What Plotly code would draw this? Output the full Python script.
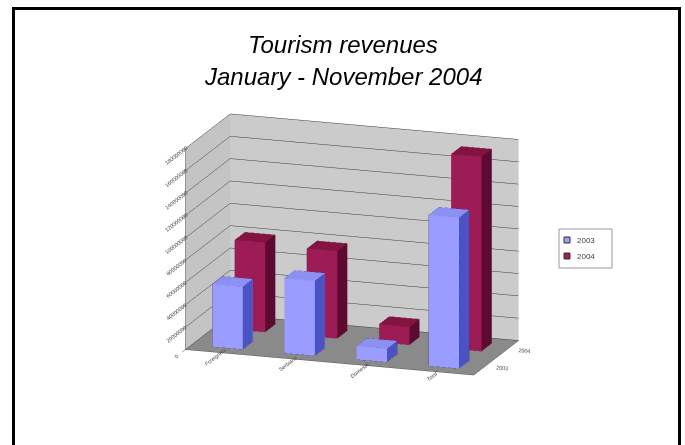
import math
import plotly.graph_objects as go

# Tourism revenues by visitor group, Jan-Nov 2003 vs 2004
categories = ["Foreigners", "Serbians", "Domestic", "Total"]
years = ["2003", "2004"]
rev_2003 = [56000000, 67000000, 12000000, 135000000]
rev_2004 = [80000000, 78000000, 16000000, 174000000]
value_ticks = list(range(0, 180000001, 20000000))

series = [
    # name, values, front, side, top
    (years[0], rev_2003, "#9a9cff", "#4a52c4", "#8c90f2"),
    (years[1], rev_2004, "#9e1c56", "#5e0a30", "#84143f"),
]

BAR_W = 0.42   # width along the category axis
BAR_D = 0.45   # depth along the series axis


def box_mesh(xc, yc, h):
    x0, x1 = xc - BAR_W / 2, xc + BAR_W / 2
    y0, y1 = yc - BAR_D / 2, yc + BAR_D / 2
    vx = [x0, x1, x1, x0, x0, x1, x1, x0]
    vy = [y0, y0, y1, y1, y0, y0, y1, y1]
    vz = [0, 0, 0, 0, h, h, h, h]
    faces = [
        ((0, 1, 5), "front"), ((0, 5, 4), "front"),
        ((1, 2, 6), "side"), ((1, 6, 5), "side"),
        ((4, 5, 6), "top"), ((4, 6, 7), "top"),
        ((3, 2, 6), "back"), ((3, 6, 7), "back"),
        ((0, 3, 7), "left"), ((0, 7, 4), "left"),
        ((0, 1, 2), "bottom"), ((0, 2, 3), "bottom"),
    ]
    return vx, vy, vz, faces


fig = go.Figure()

for si, (name, vals, c_front, c_side, c_top) in enumerate(series):
    X, Y, Z, I, J, K, FC = [], [], [], [], [], [], []
    ex, ey, ez = [], [], []
    for ci, v in enumerate(vals):
        vx, vy, vz, faces = box_mesh(ci, si, v)
        base = len(X)
        X += vx; Y += vy; Z += vz
        for (a, b, c), role in faces:
            I.append(base + a); J.append(base + b); K.append(base + c)
            FC.append({"front": c_front, "side": c_side, "top": c_top}.get(role, c_front))
        # visible outline of the box
        for path in [(0, 1, 5, 4, 0), (1, 2, 6, 5), (4, 7, 6)]:
            for p in path:
                ex.append(vx[p]); ey.append(vy[p]); ez.append(vz[p])
            ex.append(None); ey.append(None); ez.append(None)
    fig.add_trace(go.Mesh3d(
        x=X, y=Y, z=Z, i=I, j=J, k=K, facecolor=FC, flatshading=True,
        lighting=dict(ambient=1, diffuse=0, specular=0, fresnel=0, roughness=1),
        hoverinfo="skip", showlegend=False, showscale=False,
    ))
    fig.add_trace(go.Scatter3d(
        x=ex, y=ey, z=ez, mode="lines",
        line=dict(color="rgba(20,20,60,0.55)", width=1),
        hoverinfo="skip", showlegend=False,
    ))

# small legend box on the right
LEG_X0, LEG_X1, LEG_Y0, LEG_Y1 = 559, 612, 229, 268
shapes = [
    dict(type="rect", xref="paper", yref="paper",
         x0=13.5 / 685, x1=679.5 / 685, y0=-0.05, y1=1 - 8.5 / 445,
         line=dict(color="black", width=3), fillcolor="rgba(0,0,0,0)"),
    dict(type="rect", xref="paper", yref="paper",
         x0=LEG_X0 / 685, x1=LEG_X1 / 685, y0=1 - LEG_Y1 / 445, y1=1 - LEG_Y0 / 445,
         line=dict(color="#9a9a9a", width=1), fillcolor="white"),
]
annotations = []
for k, (name, _, c_front, _, _) in enumerate(series):
    yc = 240 + 16 * k
    shapes.append(dict(type="rect", xref="paper", yref="paper",
                       x0=564 / 685, x1=570 / 685,
                       y0=1 - (yc + 3) / 445, y1=1 - (yc - 3) / 445,
                       line=dict(color="#333", width=1), fillcolor=c_front))
    annotations.append(dict(text=name, x=575 / 685, y=1 - yc / 445,
                            xref="paper", yref="paper", showarrow=False,
                            xanchor="left", yanchor="middle",
                            font=dict(family="Liberation Sans, Arial", size=8, color="#444")))

title_font = dict(family="Liberation Sans, Arial", size=24, color="black")
annotations += [
    dict(text="<i>Tourism revenues</i>", x=0.5, y=1 - 44 / 445,
         xref="paper", yref="paper", showarrow=False, yanchor="middle",
         font=title_font),
    dict(text="<i>January - November 2004</i>", x=0.5, y=1 - 77 / 445,
         xref="paper", yref="paper", showarrow=False, yanchor="middle",
         font=title_font),
]

# camera: rotated ~18 deg about the vertical, elevated ~16 deg
ROT, ELEV, DIST = math.radians(18), math.radians(16), 3.5
eye = dict(x=DIST * math.sin(ROT) * math.cos(ELEV),
           y=-DIST * math.cos(ROT) * math.cos(ELEV),
           z=DIST * math.sin(ELEV))

axis_font = dict(family="Liberation Sans, Arial", size=8, color="#444")
fig.update_layout(
    width=685, height=445,
    margin=dict(l=0, r=0, t=0, b=0),
    paper_bgcolor="white",
    hovermode=False,
    showlegend=False,
    scene=dict(
        domain=dict(x=[0.03, 0.97], y=[0.0, 0.95]),
        xaxis=dict(
            title=dict(text=""), tickvals=list(range(len(categories))),
            ticktext=[f"<i>{c}</i>" for c in categories],
            range=[-0.5, len(categories) - 0.5],
            showbackground=True, backgroundcolor="#c4c4c4",
            showgrid=False, zeroline=False, showline=True, linecolor="#555",
            showspikes=False, tickfont=axis_font, ticks="",
        ),
        yaxis=dict(
            title=dict(text=""), tickvals=[0, 1], ticktext=years,
            range=[-0.5, 1.5],
            showbackground=True, backgroundcolor="#cbcbcb",
            showgrid=False, zeroline=False, showline=True, linecolor="#555",
            showspikes=False, tickfont=axis_font, ticks="",
        ),
        zaxis=dict(
            title=dict(text=""), tickvals=value_ticks,
            ticktext=[str(t) for t in value_ticks],
            range=[0, 180000000],
            showbackground=True, backgroundcolor="#8a8a8a",
            showgrid=True, gridcolor="#3a3a3a", gridwidth=1,
            zeroline=False, showline=True, linecolor="#555",
            showspikes=False, tickfont=axis_font, ticks="outside",
            tickcolor="#555", ticklen=3,
        ),
        aspectmode="manual",
        aspectratio=dict(x=1.44, y=0.66, z=0.985),
        camera=dict(
            eye=eye,
            center=dict(x=-0.045, y=0, z=0.05),
            up=dict(x=0, y=0, z=1),
            projection=dict(type="orthographic"),
        ),
    ),
    annotations=annotations,
    shapes=shapes,
)

fig.write_html("out.html")
